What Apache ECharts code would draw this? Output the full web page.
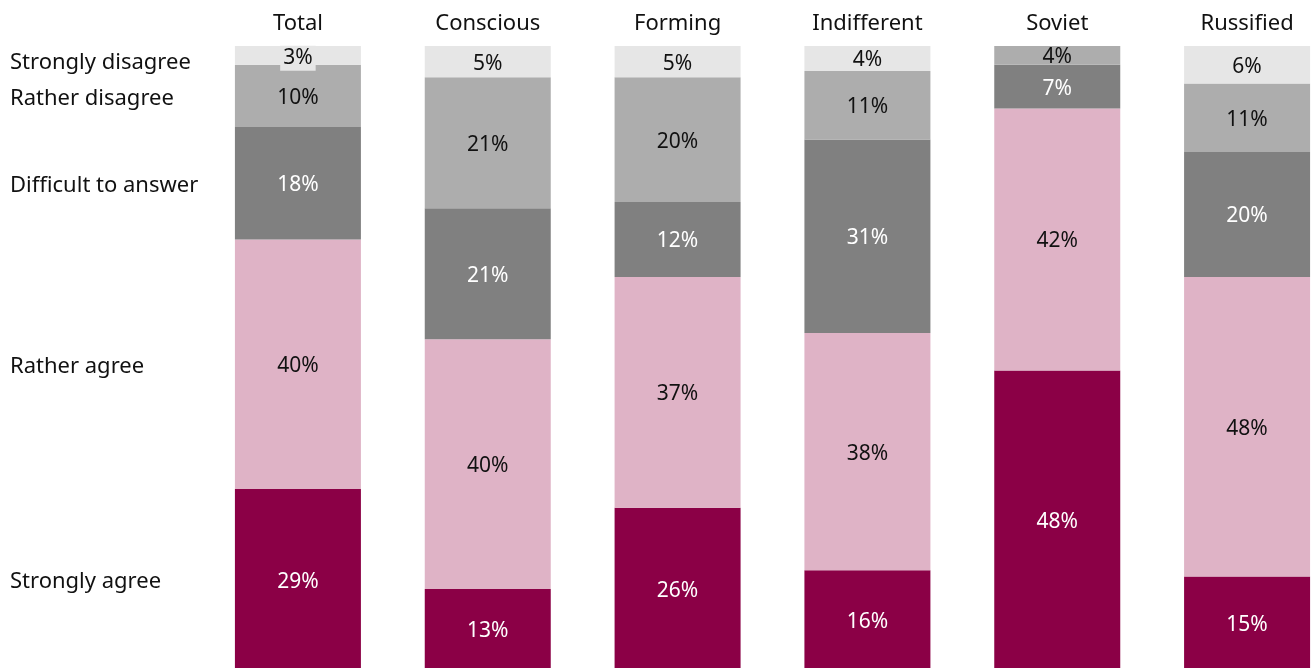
<!DOCTYPE html>
<html>
<head>
<meta charset="utf-8">
<script src="https://cdn.jsdelivr.net/npm/echarts@6/dist/echarts.min.js"></script>
<style>
  html, body { margin: 0; padding: 0; background: #ffffff; }
  #chart { width: 1313px; height: 668px; }
</style>
</head>
<body>
<div id="chart"></div>
<script>
// Groups shown as columns
const categories = ['Total', 'Conscious', 'Forming', 'Indifferent', 'Soviet', 'Russified'];

// Answer shares in percent, one array per answer (stacked bottom to top)
const stronglyAgree    = [29, 13, 26, 16, 48, 15];
const ratherAgree      = [40, 40, 37, 38, 42, 48];
const difficultAnswer  = [18, 21, 12, 31, 7, 20];
const ratherDisagree   = [10, 21, 20, 11, 4, 11];
const stronglyDisagree = [3, 5, 5, 4, 0, 6];

const answerNames = ['Strongly agree', 'Rather agree', 'Difficult to answer', 'Rather disagree', 'Strongly disagree'];
const answerValues = [stronglyAgree, ratherAgree, difficultAnswer, ratherDisagree, stronglyDisagree];
const answerColors = ['#8b0046', '#dfb3c6', '#808080', '#adadad', '#e6e6e6'];
const labelColors  = ['#ffffff', '#111111', '#ffffff', '#111111', '#111111'];

const FONT = '"Noto Sans", "Open Sans", sans-serif';

// Answer names sit beside the first column, at the middle of each of its segments
const legendPositions = [];
let running = 0;
answerValues.forEach(function (arr) {
  legendPositions.push(running + arr[0] / 2);
  running += arr[0];
});

function legendName(value) {
  for (let i = 0; i < legendPositions.length; i++) {
    if (Math.abs(legendPositions[i] - value) < 1e-6) {
      // the topmost name is nudged down so it clears the one below it
      return i === answerNames.length - 1 ? '{low|' + answerNames[i] + '}' : '{n|' + answerNames[i] + '}';
    }
  }
  return '';
}

// Segments thinner than their label get a filled label box in the segment colour
function segmentData(values, color) {
  return values.map(function (v) {
    if (v > 0 && v < 4) {
      return {
        value: v,
        label: { backgroundColor: color, padding: [2, 3], offset: [0, 3] }
      };
    }
    return v;
  });
}

const series = answerNames.map(function (name, i) {
  return {
    name: name,
    type: 'bar',
    stack: 'answers',
    barWidth: 126,
    data: segmentData(answerValues[i], answerColors[i]),
    itemStyle: { color: answerColors[i] },
    label: {
      show: true,
      position: 'inside',
      formatter: function (p) { return p.value > 0 ? p.value + '%' : ''; },
      color: labelColors[i],
      fontFamily: FONT,
      fontSize: 21,
      offset: [0, 2]
    }
  };
});

const chart = echarts.init(document.getElementById('chart'), null, { renderer: 'canvas' });
chart.setOption({
  animation: false,
  backgroundColor: '#ffffff',
  grid: { left: 203, top: 46, width: 1139, height: 624, containLabel: false, outerBoundsMode: 'none' },
  xAxis: {
    type: 'category',
    position: 'top',
    data: categories,
    axisLine: { show: false },
    axisTick: { show: false },
    axisLabel: { color: '#111111', fontFamily: FONT, fontSize: 22, margin: 11 }
  },
  yAxis: {
    type: 'value',
    min: 0,
    max: 100,
    splitLine: { show: false },
    axisLine: { show: false },
    axisTick: { show: false },
    axisLabel: {
      customValues: legendPositions,
      formatter: legendName,
      align: 'left',
      margin: 193,
      color: '#111111',
      fontFamily: FONT,
      fontSize: 22,
      rich: {
        n: { fontFamily: FONT, fontSize: 22, color: '#111111', padding: [5, 0, 0, 0] },
        low: { fontFamily: FONT, fontSize: 22, color: '#111111', padding: [14, 0, 0, 0] }
      }
    }
  },
  series: series
});
</script>
</body>
</html>
